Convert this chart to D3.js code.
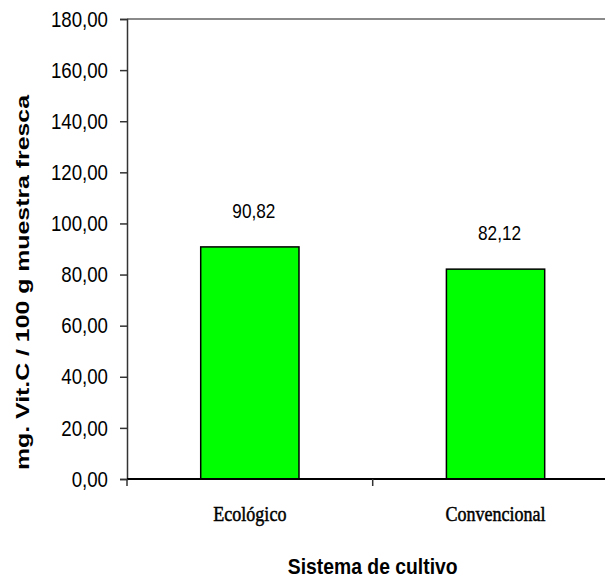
<!DOCTYPE html>
<html>
<head>
<meta charset="utf-8">
<script src="https://cdn.jsdelivr.net/npm/d3@7"></script>
<style>
  html, body { margin: 0; padding: 0; background: #fff; }
  svg { display: block; }
</style>
</head>
<body>
<svg id="chart" width="605" height="581"></svg>
<script>
// Vitamin C content by cultivation system
const categories = ["Ecológico", "Convencional"];
const values = [90.82, 82.12];
const yTicks = [0, 20, 40, 60, 80, 100, 120, 140, 160, 180];

const svg = d3.select("#chart");
const fmt = v => d3.format(".2f")(v).replace(".", ",");

const plotLeft = 127, plotTop = 19, plotBottom = 479, plotRight = 618.4;

const x = d3.scaleBand()
  .domain(categories)
  .range([plotLeft, plotRight])
  .paddingInner(0.6)
  .paddingOuter(0.3);

const y = d3.scaleLinear().domain([0, 180]).range([plotBottom, plotTop]);

// top border of the plot area
svg.append("line")
  .attr("x1", plotLeft).attr("x2", 605)
  .attr("y1", plotTop).attr("y2", plotTop)
  .attr("stroke", "#8a8a8a").attr("stroke-width", 2);

// bars
svg.selectAll("rect.bar")
  .data(values)
  .join("rect")
  .attr("class", "bar")
  .attr("x", (d, i) => x(categories[i]))
  .attr("y", d => y(d))
  .attr("width", x.bandwidth())
  .attr("height", d => y(0) - y(d))
  .attr("fill", "#00ff00")
  .attr("stroke", "#000")
  .attr("stroke-width", 1.5);

// value labels
svg.selectAll("text.val")
  .data(values)
  .join("text")
  .attr("class", "val")
  .attr("transform", (d, i) => `translate(${x(categories[i]) + x.bandwidth() / 2 + 4},${y(d) - 29}) scale(0.82,1)`)
  .attr("text-anchor", "middle")
  .attr("font-family", "Liberation Sans, Arial, sans-serif")
  .attr("font-size", 21)
  .attr("fill", "#000")
  .text(d => fmt(d));

// y axis
const yAxis = svg.append("g").attr("transform", `translate(${plotLeft},0)`)
  .call(d3.axisLeft(y).tickValues(yTicks).tickSize(7).tickPadding(12).tickFormat(fmt));
yAxis.select(".domain").attr("stroke", "#333").attr("stroke-width", 1.5);
yAxis.selectAll(".tick line").attr("stroke", "#333").attr("stroke-width", 1.5);
yAxis.selectAll(".tick text")
  .attr("font-family", "Liberation Sans, Arial, sans-serif")
  .attr("font-size", 22.5)
  .attr("fill", "#000")
  .each(function () {
    const t = d3.select(this);
    const tx = +t.attr("x");
    t.attr("x", null).attr("transform", `translate(${tx},0) scale(0.83,1)`);
  });

// x axis baseline with ticks at category boundaries
svg.append("line")
  .attr("x1", plotLeft).attr("x2", 605)
  .attr("y1", plotBottom).attr("y2", plotBottom)
  .attr("stroke", "#000").attr("stroke-width", 2);
const boundaries = [plotLeft, plotLeft + x.step()];
svg.selectAll("line.xtick")
  .data(boundaries)
  .join("line")
  .attr("class", "xtick")
  .attr("x1", d => d).attr("x2", d => d)
  .attr("y1", plotBottom).attr("y2", plotBottom + 7)
  .attr("stroke", "#333").attr("stroke-width", 1.5);

// category labels
svg.selectAll("text.cat")
  .data(categories)
  .join("text")
  .attr("class", "cat")
  .attr("transform", d => `translate(${x(d) + x.bandwidth() / 2},521) scale(0.82,1)`)
  .attr("text-anchor", "middle")
  .attr("font-family", "Liberation Serif, Times New Roman, serif")
  .attr("font-size", 22)
  .attr("fill", "#000")
  .attr("stroke", "#000")
  .attr("stroke-width", 0.5)
  .text(d => d);

// x axis title
svg.append("text")
  .attr("transform", `translate(${plotLeft + x.step()},574) scale(0.86,1)`)
  .attr("text-anchor", "middle")
  .attr("font-family", "Liberation Sans, Arial, sans-serif")
  .attr("font-size", 22.5)
  .attr("font-weight", "bold")
  .attr("fill", "#000")
  .text("Sistema de cultivo");

// y axis title
svg.append("text")
  .attr("transform", `translate(29,${(95 + 470) / 2}) rotate(-90)`)
  .attr("text-anchor", "middle")
  .attr("font-family", "Liberation Sans, Arial, sans-serif")
  .attr("font-size", 19)
  .attr("font-weight", "bold")
  .attr("fill", "#000")
  .attr("textLength", 375)
  .attr("lengthAdjust", "spacingAndGlyphs")
  .text("mg. Vit.C / 100 g muestra fresca");
</script>
</body>
</html>
